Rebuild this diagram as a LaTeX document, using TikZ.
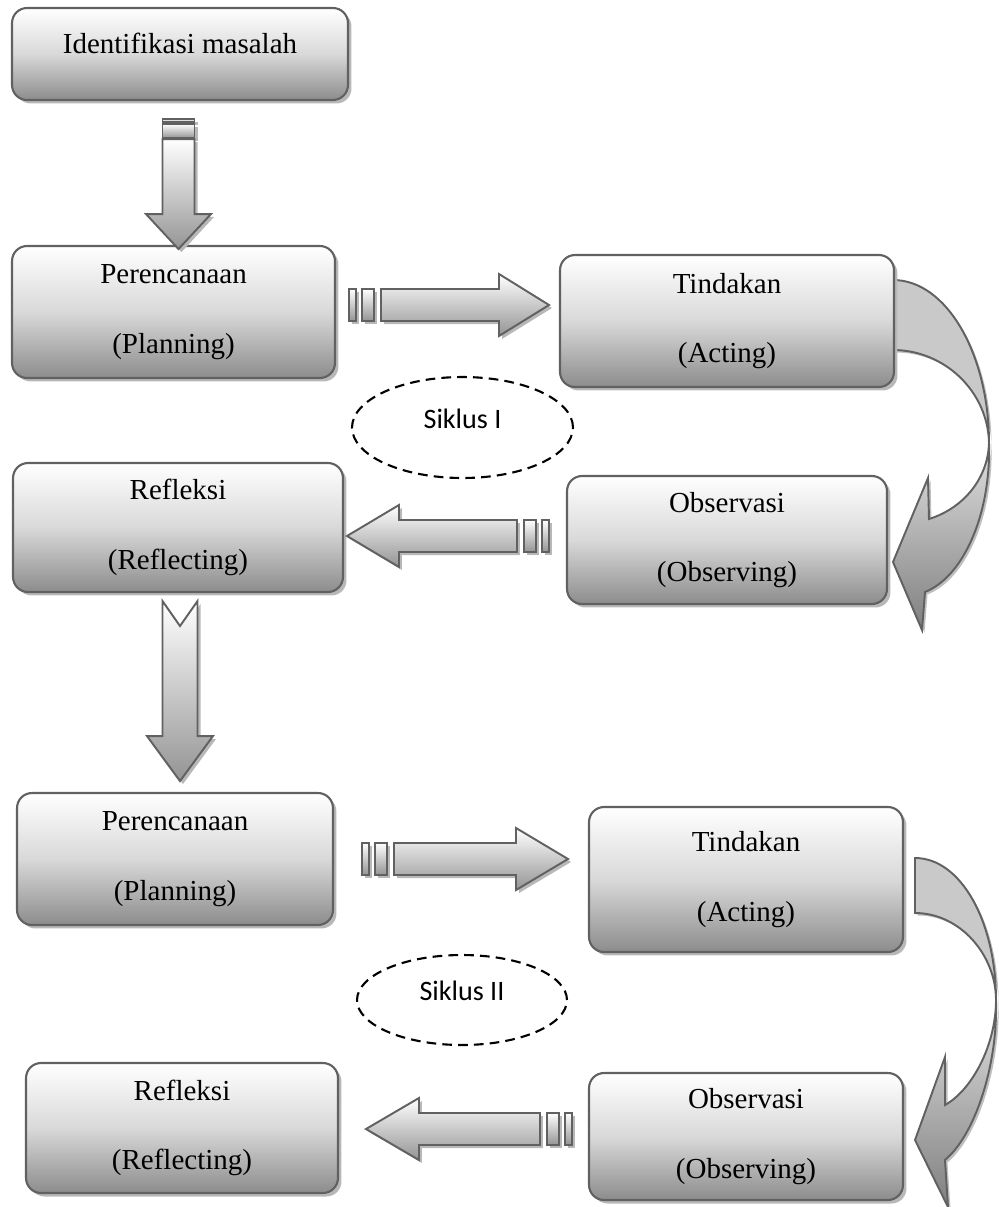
\documentclass[tikz,border=0pt]{standalone}
\usepackage{fontspec}
\setmainfont{Liberation Serif}
\newfontfamily\siklusfont{Carlito}
\usetikzlibrary{shapes.geometric, shadows, calc}

\tikzset{
  stage/.style={draw=black!62, line width=1.2pt, rounded corners=0.3cm,
    top color=white, bottom color=black!45, middle color=black!15,
    drop shadow={shadow xshift=0.07cm, shadow yshift=-0.07cm, fill=black!28, opacity=1},
    align=center, inner sep=0pt, font=\fontsize{16.5}{39.7}\selectfont,
    execute at begin node={\rule{0pt}{16pt}}},
  blockarrow/.style={draw=black!62, line width=1.1pt, top color=white, bottom color=black!42,
    drop shadow={shadow xshift=0.06cm, shadow yshift=-0.06cm, fill=black!28, opacity=1}},
  loopback/.style={draw=black!62, line width=1.1pt, fill=black!21,
    drop shadow={shadow xshift=0.05cm, shadow yshift=-0.05cm, fill=black!25, opacity=1}},
  loopfront/.style={draw=black!62, line width=1.1pt, top color=black!12, bottom color=black!50,
    drop shadow={shadow xshift=0.05cm, shadow yshift=-0.05cm, fill=black!25, opacity=1}},
  siklus/.style={ellipse, draw, line width=1.2pt, dash pattern=on 5.5pt off 3.5pt,
    inner sep=0pt, text depth=0.36cm, font=\siklusfont\fontsize{16}{19}\selectfont},
  pics/stripedarrow/.style n args={3}{code={
    \path[blockarrow] (0,-16) rectangle ({#1*7},16);
    \path[blockarrow] ({#1*13},-16) rectangle ({#1*25},16);
    \path[blockarrow] ({#1*32},-16) -- ({#1*(#2-#3)},-16) -- ({#1*(#2-#3)},-31)
      -- ({#1*#2},0) -- ({#1*(#2-#3)},31) -- ({#1*(#2-#3)},16) -- ({#1*32},16) -- cycle;
  }}
}

\begin{document}
\begin{tikzpicture}[x=0.02cm, y=-0.02cm]
\useasboundingbox (0,0) rectangle (998,1207);

\path[loopback] (893,280) .. controls (947,280) and (989,355) .. (989,443)
  .. controls (988,392) and (945,350) .. (893,350) -- cycle;
\path[loopfront] (989,443) .. controls (991,515) and (963,577) .. (925,592) -- (922,630)
  -- (893,562) -- (928,478) -- (929,519) .. controls (964,508) and (988,478) .. (989,443) -- cycle;
\path[loopback] (915,858) .. controls (961,858) and (996,922) .. (996,1000)
  .. controls (996,955) and (960,913) .. (915,913) -- cycle;
\path[loopfront] (996,1000) .. controls (998,1065) and (975,1135) .. (945,1160) -- (948,1207)
  -- (915,1140) -- (945,1057) -- (945,1105) .. controls (972,1090) and (996,1045) .. (996,1000) -- cycle;

\node[stage, minimum width=6.72cm, minimum height=1.84cm, text depth=0.6cm] (idf) at (180,54) {Identifikasi masalah};
\node[stage, minimum width=6.46cm, minimum height=2.64cm] (plan1) at (173.5,312) {Perencanaan\\(Planning)};
\node[stage, minimum width=6.68cm, minimum height=2.64cm] (act1) at (727,321) {Tindakan\\(Acting)};
\node[stage, minimum width=6.60cm, minimum height=2.58cm] (refl1) at (178,527.5) {Refleksi\\(Reflecting)};
\node[stage, minimum width=6.40cm, minimum height=2.56cm] (obs1) at (727,540) {Observasi\\(Observing)};
\node[stage, minimum width=6.32cm, minimum height=2.64cm] (plan2) at (175,859) {Perencanaan\\(Planning)};
\node[stage, minimum width=6.28cm, minimum height=2.90cm] (act2) at (746,879.5) {Tindakan\\(Acting)};
\node[stage, minimum width=6.24cm, minimum height=2.60cm] (refl2) at (182,1128) {Refleksi\\(Reflecting)};
\node[stage, minimum width=6.28cm, minimum height=2.54cm] (obs2) at (746,1136.5) {Observasi\\(Observing)};

\node[siklus, minimum width=4.42cm, minimum height=2.02cm] (sik1) at (462.5,427.5) {Siklus I};
\node[siklus, minimum width=4.20cm, minimum height=1.80cm] (sik2) at (462,1000) {Siklus II};

\coordinate (dn1) at ($(idf.south)+(-1.5,18)$);
\coordinate (dn2) at ($(refl1.south)+(2,8)$);
\coordinate (ar1) at ($(plan1.east)+(13,-7)$);
\coordinate (al1) at ($(obs1.west)+(-17,-4)$);
\coordinate (ar2) at ($(plan2.east)+(28,0)$);
\coordinate (al2) at ($(obs2.west)+(-16,-7.5)$);

\begin{scope}[shift={(dn1)}]
\path[blockarrow] (-16,0) rectangle (16,3);
\path[blockarrow] (-16,5) rectangle (16,19);
\path[blockarrow] (-16,20) -- (-16,95) -- (-32.5,95) -- (0,130) -- (32.5,95) -- (16,95) -- (16,20) -- cycle;
\end{scope}
\begin{scope}[shift={(dn2)}]
\path[blockarrow] (-17.5,0) -- (0,25) -- (17.5,0) -- (17.5,135) -- (33,135) -- (0,180)
  -- (-33,135) -- (-17.5,135) -- cycle;
\end{scope}

\pic at (ar1) {stripedarrow={1}{200}{50}};
\pic at (al1) {stripedarrow={-1}{202}{52}};
\pic at (ar2) {stripedarrow={1}{206}{52}};
\pic at (al2) {stripedarrow={-1}{206}{53}};
\end{tikzpicture}
\end{document}
